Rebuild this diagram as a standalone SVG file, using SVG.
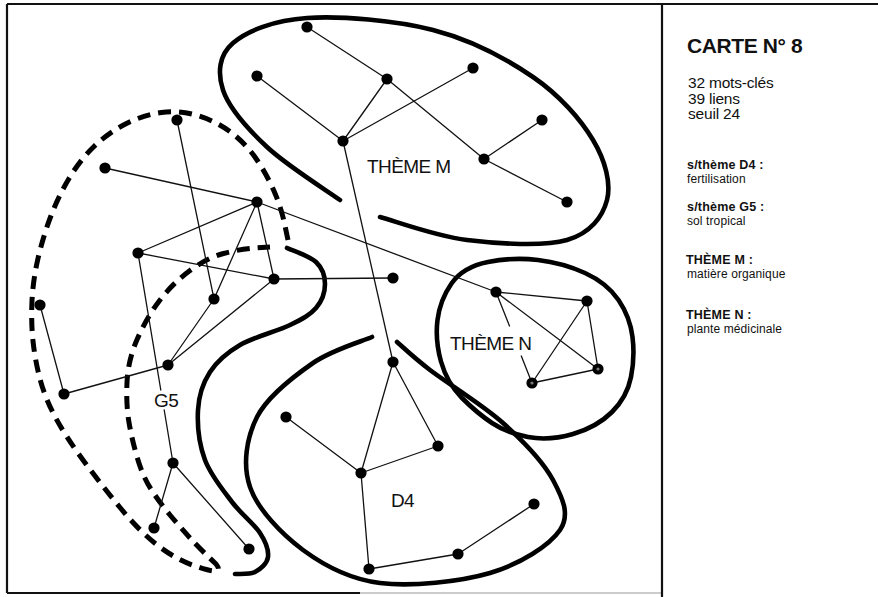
<svg xmlns="http://www.w3.org/2000/svg" width="878" height="597" viewBox="0 0 878 597">
  <style>
    .frame { stroke: #111; stroke-width: 2.2; fill: none; }
    .edge { stroke: #111; stroke-width: 1.3; fill: none; stroke-linecap: round; }
    .zone { stroke: #000; stroke-width: 4.6; fill: none; stroke-linecap: round; stroke-linejoin: round; }
    .zone-dash { stroke: #000; stroke-width: 5; fill: none; stroke-dasharray: 13 8; stroke-linecap: butt; }
    .dot { fill: #000; }
    .dot-core { fill: #777; }
    .lbl { font-family: "Liberation Sans", Arial, sans-serif; font-size: 19px; fill: #111; letter-spacing: -0.6px; }
    .title { font-family: "Liberation Sans", Arial, sans-serif; font-size: 21px; font-weight: bold; fill: #111; letter-spacing: -0.4px; }
    .stat { font-family: "Liberation Sans", Arial, sans-serif; font-size: 15.5px; fill: #111; letter-spacing: -0.2px; }
    .head { font-family: "Liberation Sans", Arial, sans-serif; font-size: 12.5px; font-weight: bold; fill: #111; letter-spacing: 0.2px; }
    .desc { font-family: "Liberation Sans", Arial, sans-serif; font-size: 12px; fill: #111; letter-spacing: 0.1px; }
  </style>

  <!-- page frame and legend divider -->
  <g id="frame">
    <line class="frame" x1="7" y1="4" x2="878" y2="4"/>
    <line class="frame" x1="7" y1="4" x2="7" y2="593"/>
    <line class="frame" x1="7" y1="593" x2="360" y2="593"/>
    <line x1="360" y1="593" x2="662" y2="593" stroke="#bbb" stroke-width="1.5"/>
    <line class="frame" x1="662" y1="4" x2="662" y2="597"/>
  </g>

  <!-- cluster outlines -->
  <g id="zones">
    <path id="zone-theme-m" class="zone" d="M 380 217 C 394.5 220.8 435.8 236.2 467 240 C 498.2 243.8 543.7 246.7 567 240 C 590.3 233.3 602.7 216.7 607 200 C 611.3 183.3 605.3 160.5 593 140 C 580.7 119.5 559.7 95.3 533 77 C 506.3 58.7 470.7 39.8 433 30 C 395.3 20.2 340.3 15.8 307 18 C 273.7 20.2 247 31 233 43 C 219 55 217.3 72.7 223 90 C 228.7 107.3 247.5 128.7 267 147 C 286.5 165.3 327.8 191.2 340 200"/>
    <path id="zone-theme-n" class="zone" d="M 488 262 Q 513 257 538 260 Q 563 263 585 273 Q 607 283 618.5 300 Q 630 317 632.5 337 Q 635 357 631 377 Q 627 397 612 412 Q 597 427 573 434 Q 549 441 528 437 Q 507 433 492 423 Q 477 413 462 398 Q 447 383 441 361.5 Q 435 340 437.5 320 Q 440 300 451.5 283.5 Q 463 267 488 262 Z"/>
    <path id="zone-d4" class="zone" d="M 372 337 C 362.2 341.3 332.2 349.7 313 363 C 293.8 376.3 267.5 396.3 257 417 C 246.5 437.7 242.3 464.8 250 487 C 257.7 509.2 281.3 534 303 550 C 324.7 566 348.8 579.2 380 583 C 411.2 586.8 460 581.8 490 573 C 520 564.2 549.5 545.5 560 530 C 570.5 514.5 562.5 497.8 553 480 C 543.5 462.2 523.5 441.3 503 423 C 482.5 404.7 447.7 383.5 430 370 C 412.3 356.5 402.5 346.7 397 342"/>
    <path id="zone-g5-edge" class="zone" d="M 287 248 C 291.8 250.3 309.7 256 316 262 C 322.3 268 325 276.3 325 284 C 325 291.7 321.8 301.2 316 308 C 310.2 314.8 302.7 318.8 290 325 C 277.3 331.2 253.3 337.2 240 345 C 226.7 352.8 217 361.2 210 372 C 203 382.8 198.8 395.3 198 410 C 197.2 424.7 199.3 444.7 205 460 C 210.7 475.3 222.8 489.8 232 502 C 241.2 514.2 254 523.8 260 533 C 266 542.2 268.8 550.5 268 557 C 267.2 563.5 260.5 569.2 255 572 C 249.5 574.8 238.3 573.7 235 574"/>
    <path id="zone-g5" class="zone-dash" d="M 288 240 L 284.5 223.5 Q 281 207 274 191 Q 267 175 257 160 Q 247 145 232.5 133.5 Q 218 122 199 116 Q 180 110 161.5 112.5 Q 143 115 125.5 124 Q 108 133 94 146.5 Q 80 160 69 178.5 Q 58 197 50.5 217 Q 43 237 38 258.5 Q 33 280 32 301 Q 31 322 33 341 Q 35 360 40 379 Q 45 398 55.5 417.5 Q 66 437 83 460 Q 100 483 120 507.5 Q 140 532 158.5 546 Q 177 560 195 566 Q 226 577 216 564 Q 200 549 190 538 Q 180 527 170 515 Q 160 503 151.5 490 Q 143 477 137.5 458.5 Q 132 440 129 422.5 Q 126 405 127 382.5 Q 128 360 137.5 338.5 Q 147 317 160 300 Q 173 283 190 270.5 Q 207 258 223.5 253.5 Q 240 249 255 248 L 270 247"/>
  </g>

  <!-- links between keywords -->
  <g id="edges">
    <line class="edge" x1="307" y1="27" x2="387" y2="79"/>
    <line class="edge" x1="387" y1="79" x2="343" y2="141"/>
    <line class="edge" x1="257" y1="76" x2="343" y2="141"/>
    <line class="edge" x1="473" y1="68" x2="343" y2="141"/>
    <line class="edge" x1="387" y1="79" x2="484" y2="159"/>
    <line class="edge" x1="542" y1="120" x2="484" y2="159"/>
    <line class="edge" x1="484" y1="159" x2="567" y2="202"/>
    <line class="edge" x1="343" y1="141" x2="393" y2="362"/>

    <line class="edge" x1="177" y1="120" x2="214" y2="299"/>
    <line class="edge" x1="105" y1="168" x2="257" y2="202"/>
    <line class="edge" x1="257" y1="202" x2="138" y2="253"/>
    <line class="edge" x1="257" y1="202" x2="214" y2="299"/>
    <line class="edge" x1="257" y1="202" x2="274" y2="279"/>
    <line class="edge" x1="257" y1="202" x2="496" y2="292"/>
    <line class="edge" x1="138" y1="253" x2="274" y2="279"/>
    <line class="edge" x1="138" y1="253" x2="160.8" y2="390"/>
    <line class="edge" x1="164.2" y1="410" x2="173" y2="463"/>
    <line class="edge" x1="40" y1="305" x2="64" y2="394"/>
    <line class="edge" x1="64" y1="394" x2="168" y2="365"/>
    <line class="edge" x1="168" y1="365" x2="214" y2="299"/>
    <line class="edge" x1="168" y1="365" x2="274" y2="279"/>
    <line class="edge" x1="173" y1="463" x2="154" y2="528"/>
    <line class="edge" x1="173" y1="463" x2="249" y2="549"/>
    <line class="edge" x1="274" y1="279" x2="393" y2="278"/>

    <line class="edge" x1="496" y1="292" x2="587" y2="301"/>
    <line class="edge" x1="496" y1="292" x2="598" y2="369"/>
    <line class="edge" x1="587" y1="301" x2="598" y2="369"/>
    <line class="edge" x1="587" y1="301" x2="532" y2="383"/>
    <line class="edge" x1="598" y1="369" x2="532" y2="383"/>
    <line class="edge" x1="496" y1="292" x2="509.5" y2="326"/>
    <line class="edge" x1="521.3" y1="356" x2="532" y2="383"/>

    <line class="edge" x1="393" y1="362" x2="361" y2="473"/>
    <line class="edge" x1="393" y1="362" x2="438" y2="446"/>
    <line class="edge" x1="438" y1="446" x2="361" y2="473"/>
    <line class="edge" x1="286" y1="417" x2="361" y2="473"/>
    <line class="edge" x1="361" y1="473" x2="369" y2="569"/>
    <line class="edge" x1="369" y1="569" x2="458" y2="554"/>
    <line class="edge" x1="458" y1="554" x2="534" y2="504"/>
  </g>

  <!-- keywords: theme M -->
  <g id="m1"><circle class="dot" cx="307" cy="27" r="5.6"/></g>
  <g id="m2"><circle class="dot" cx="257" cy="76" r="5.6"/></g>
  <g id="m3"><circle class="dot" cx="387" cy="79" r="5.6"/></g>
  <g id="m4"><circle class="dot" cx="473" cy="68" r="5.6"/></g>
  <g id="m5"><circle class="dot" cx="343" cy="141" r="5.6"/></g>
  <g id="m6"><circle class="dot" cx="542" cy="120" r="5.6"/></g>
  <g id="m7"><circle class="dot" cx="484" cy="159" r="5.6"/></g>
  <g id="m8"><circle class="dot" cx="567" cy="202" r="5.6"/></g>

  <!-- keywords: sub-theme G5 and neighbours -->
  <g id="g1"><circle class="dot" cx="177" cy="120" r="5.6"/></g>
  <g id="g2"><circle class="dot" cx="105" cy="168" r="5.6"/></g>
  <g id="g3"><circle class="dot" cx="257" cy="202" r="5.6"/></g>
  <g id="g4"><circle class="dot" cx="138" cy="253" r="5.6"/></g>
  <g id="g5"><circle class="dot" cx="274" cy="279" r="5.6"/></g>
  <g id="g6"><circle class="dot" cx="214" cy="299" r="5.6"/></g>
  <g id="g7"><circle class="dot" cx="40" cy="305" r="5.6"/></g>
  <g id="g8"><circle class="dot" cx="64" cy="394" r="5.6"/></g>
  <g id="g9"><circle class="dot" cx="168" cy="365" r="5.6"/></g>
  <g id="g10"><circle class="dot" cx="173" cy="463" r="5.6"/></g>
  <g id="g11"><circle class="dot" cx="154" cy="528" r="5.6"/></g>
  <g id="g12"><circle class="dot" cx="249" cy="549" r="5.6"/></g>
  <g id="x1"><circle class="dot" cx="393" cy="278" r="5.6"/></g>

  <!-- keywords: theme N -->
  <g id="n1"><circle class="dot" cx="496" cy="292" r="5.6"/></g>
  <g id="n2"><circle class="dot" cx="587" cy="301" r="5.6"/></g>
  <g id="n3"><circle class="dot" cx="598" cy="369" r="5.6"/><circle class="dot-core" cx="598" cy="369" r="1.6"/></g>
  <g id="n4"><circle class="dot" cx="532" cy="383" r="5.6"/><circle class="dot-core" cx="532" cy="383" r="1.6"/></g>

  <!-- keywords: sub-theme D4 -->
  <g id="d1"><circle class="dot" cx="393" cy="362" r="5.6"/></g>
  <g id="d2"><circle class="dot" cx="286" cy="417" r="5.6"/></g>
  <g id="d3"><circle class="dot" cx="438" cy="446" r="5.6"/></g>
  <g id="d4"><circle class="dot" cx="361" cy="473" r="5.6"/></g>
  <g id="d5"><circle class="dot" cx="369" cy="569" r="5.6"/></g>
  <g id="d6"><circle class="dot" cx="458" cy="554" r="5.6"/></g>
  <g id="d7"><circle class="dot" cx="534" cy="504" r="5.6"/></g>

  <!-- cluster names -->
  <g id="labels">
    <text class="lbl" x="367" y="173">THÈME M</text>
    <text class="lbl" x="450" y="350">THÈME N</text>
    <text class="lbl" x="391" y="507">D4</text>
    <text class="lbl" x="154" y="407">G5</text>
  </g>

  <!-- legend -->
  <g id="legend">
    <text class="title" x="687" y="53">CARTE N° 8</text>
    <text class="stat" x="688" y="88">32 mots-clés</text>
    <text class="stat" x="688" y="103.5">39 liens</text>
    <text class="stat" x="688" y="119">seuil 24</text>
    <text class="head" x="687" y="168.5">s/thème D4 :</text>
    <text class="desc" x="687" y="182.5">fertilisation</text>
    <text class="head" x="687" y="210.5">s/thème G5 :</text>
    <text class="desc" x="687" y="224.5">sol tropical</text>
    <text class="head" x="686" y="263.5">THÈME M :</text>
    <text class="desc" x="687" y="277.5">matière organique</text>
    <text class="head" x="686" y="319">THÈME N :</text>
    <text class="desc" x="687" y="333">plante médicinale</text>
  </g>
</svg>
